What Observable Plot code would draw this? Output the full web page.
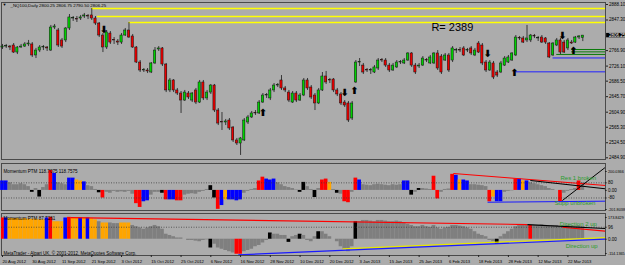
<!DOCTYPE html>
<html><head><meta charset="utf-8">
<script src="https://cdn.jsdelivr.net/npm/d3@7"></script>
<script src="https://cdn.jsdelivr.net/npm/@observablehq/plot@0.6"></script>
<style>
html,body{margin:0;padding:0;background:#acacac;}
#chart{position:relative;width:625px;height:265px;background:#acacac;overflow:hidden;}
#chart svg{position:absolute;left:0;}
</style></head><body><div id="chart"></div>
<script>
// ---------- price data (daily candles, 20 Aug 2012 .. 28 Mar 2013) ----------
const open = [2775,2777.5,2777.5,2780.25,2761.75,2775,2777.5,2783,2783,2754,
2767,2775,2775,2767,2827.5,2819.75,2793.5,2793.5,2825,2851.25,
2848.5,2851.25,2856.5,2856.5,2859.25,2851.25,2838,2806.5,2775,2811.75,
2793.5,2790.75,2788,2806.5,2819.75,2804,2775,2735.5,2714.5,2714.5,
2709.25,2733,2769.75,2772.5,2730.25,2662,2688.25,2662,2654,2635.5,
2654,2635.5,2662,2630.25,2683,2641,2656.5,2675,2609.25,2577.75,
2577.75,2583,2564.5,2530.5,2522.5,2530.5,2577.75,2591,2601.5,2601.5,
2630.25,2648.75,2641,2662,2675,2688.25,2667.25,2656.5,2630.25,2654,
2635.5,2648.75,2688.25,2669.75,2648.75,2627.75,2662,2698.75,2688.25,2690.75,
2662,2651.5,2630.25,2627.75,2588.25,2683,2735.5,2727.5,2714.5,2714.5,
2709.25,2719.75,2740.75,2740.75,2727.5,2714.5,2722.5,2735.5,2733,2740.75,
2759.25,2727.5,2725,2727.5,2740.75,2733,2733,2759.25,2751.25,2740.75,
2754,2740.75,2767,2767,2772.5,2767,2772.5,2754,2785.5,2780.25,
2735.5,2714.5,2733,2709.25,2709.25,2727.5,2735.5,2740.75,2754,2798.75,
2798.75,2793.5,2793.5,2804,2798.75,2801.25,2798.75,2785.5,2754,2780.25,
2793.5,2788,2772.5,2788,2788,2801.25,2800.25];
const close = [2777.5,2778,2775,2761.75,2775,2777.5,2783,2785.5,2754,2767,
2775,2775.5,2772.5,2827.5,2830.25,2780.25,2777.5,2825,2854,2851.75,
2848,2854,2859.25,2856,2851.25,2838,2806.5,2775,2814.5,2788,
2793,2788,2806.5,2819.75,2801.25,2775,2735.5,2714.5,2715,2712,
2733,2767,2772.5,2730.25,2662,2688.25,2662,2654,2635.5,2656.5,
2643.5,2654,2630.25,2683,2641,2656.5,2675,2609.25,2575,2577.25,
2580.5,2562,2530.5,2522.5,2535.75,2583,2591,2601.5,2601,2630.25,
2648.75,2649,2662,2675,2675.5,2667.25,2662,2635.5,2654,2635.5,
2648.75,2688.25,2667.25,2643.5,2627.75,2662,2698.75,2683,2688,2662,
2651.5,2627.75,2622.5,2583,2627.75,2735.5,2736,2709.25,2714,2715,
2722.5,2740.75,2740.25,2727.5,2714.5,2727.5,2735.5,2736,2740.75,2759.25,
2727.5,2709.25,2727.5,2746,2740.25,2748.75,2759.25,2719.75,2709.25,2754,
2714.5,2772.5,2767.5,2766.5,2754,2767.5,2759.25,2767,2761.75,2733,
2714.5,2735.5,2696,2701.25,2733,2746,2748.75,2759.25,2801.25,2798.25,
2788,2798.75,2806.5,2803.5,2799.25,2788,2788,2748.75,2785.5,2793.5,
2761.75,2761.75,2793.5,2785.5,2801.25,2804,2806.25];
const high = [2783,2783,2780.25,2785.5,2777.5,2783,2788,2793.5,2788,2772.5,
2780.25,2780.25,2777.5,2833,2835.5,2825,2798.75,2827.5,2861.75,2856.5,
2856.5,2859.25,2864.5,2861.75,2877.5,2856.5,2840.75,2811.75,2819.75,2817,
2801.25,2796,2811.75,2825,2840.75,2809.25,2777.5,2740.75,2719.75,2719.75,
2735.5,2775,2777.5,2775,2733,2693.5,2690.75,2667.25,2659.25,2662,
2659.25,2656.5,2667.25,2688.25,2688.25,2662,2677.75,2677.75,2614.5,2604,
2585.75,2588.25,2567.25,2535.75,2538.25,2588.25,2596.25,2606.75,2609.25,2635.5,
2654,2654,2667.25,2680.25,2680.25,2701.25,2672.5,2662,2659.25,2659.25,
2654,2693.5,2693.5,2675,2654,2667.25,2709.25,2712,2693.5,2693.5,
2667.25,2656.5,2635.5,2633,2633,2740.75,2746,2733,2719.75,2719.75,
2727.5,2746,2746,2746,2733,2733,2740.75,2740.75,2746,2761.75,
2761.75,2733,2733,2751.25,2746,2754,2761.75,2767,2756.5,2759.25,
2759.25,2777.5,2772.5,2775,2777.5,2772.5,2777.5,2772.5,2790.75,2785.5,
2740.75,2740.75,2738.25,2714.5,2738.25,2751.25,2754,2761.75,2806.5,2804,
2804,2833,2809.25,2809.25,2804,2806.5,2801.25,2788,2788,2798.75,
2798.75,2793.5,2798.75,2793.5,2804,2806.5,2806.75];
const low = [2769.75,2772.5,2767,2759.25,2756.5,2772.5,2775,2777.5,2748.75,2746,
2761.75,2767,2764.5,2764.5,2822.25,2775,2772.5,2788,2819.75,2843.5,
2840.75,2846,2851.25,2848.5,2846,2833,2801.25,2761.75,2769.75,2783,
2783,2780.25,2783,2804,2798.75,2772.5,2733,2709.25,2709.25,2706.5,
2706.5,2730.25,2764.5,2725,2656.5,2656.5,2656.5,2648.75,2601.5,2633,
2638.25,2630.25,2625,2627.75,2635.5,2635.5,2651.5,2604,2569.75,2556.75,
2569.75,2556.75,2525.25,2517.25,2491,2527.75,2572.5,2588.25,2596.25,2598.75,
2627.75,2641,2635.5,2656.5,2669.75,2662,2656.5,2630.25,2627.75,2630.25,
2633,2646,2662,2638.25,2609.25,2625,2659.25,2677.75,2680.25,2656.5,
2646,2622.5,2617.25,2577.75,2583,2680.25,2725,2704,2709.25,2704,
2706.5,2714.5,2735.5,2722.5,2709.25,2712,2719.75,2730.25,2730.25,2738.25,
2722.5,2704,2719.75,2725,2735.5,2730.25,2730.25,2714.5,2704,2738.25,
2709.25,2735.5,2759.25,2761.75,2751.25,2761.75,2754,2751.25,2759.25,2727.5,
2709.25,2712,2690.75,2696,2706.5,2725,2733,2738.25,2751.25,2793.5,
2785.5,2788,2788,2798.75,2790.75,2785.5,2783,2746,2751.25,2777.5,
2756.5,2759.25,2767,2783,2785.5,2796,2790.5];

// ---------- indicator window 1: Momentum PTM ----------
const mom1 = [100,100,80,60,60,70,60,40,-20,20,
-70,30,60,210,180,80,70,60,130,130,
110,100,90,50,40,10,-25,-80,-20,-30,
-10,-20,-15,-20,-10,-40,-140,-180,-120,-110,
-50,-20,-20,-30,-100,-100,-100,-110,-110,-50,
-40,-35,-40,-20,-10,10,50,-80,-200,-160,
-100,-100,-100,-110,-100,-30,-10,10,20,100,
140,120,110,120,80,60,40,30,20,5,
-20,85,40,10,-75,20,110,120,85,10,
-30,-40,-120,-130,-20,130,110,60,55,50,
60,65,60,55,50,60,55,60,100,100,
-50,-20,20,20,15,10,150,-90,-20,10,
15,170,160,110,110,100,60,60,55,50,
40,-120,-70,-120,-120,-20,-10,-5,120,120,
100,100,80,70,60,50,40,20,10,0,
-120,-30,-10,10,20,100,80];
const mom1Col = ["b","b","g","g","g","g","g","g","k","g",
"k","g","g","r","b","g","g","g","b","b",
"o","o","b","g","g","g","k","r","g","g",
"g","g","g","g","g","g","r","r","b","b",
"g","g","g","k","r","b","b","r","r","g",
"g","g","g","g","g","g","k","k","r","b",
"o","b","b","b","b","g","g","g","g","r",
"r","b","b","b","g","g","g","g","g","g",
"k","k","g","g","k","g","r","r","o","g",
"k","g","r","r","g","r","b","g","g","g",
"g","g","g","g","g","g","g","g","b","b",
"k","g","k","g","g","g","r","r","g","g",
"g","r","b","o","b","b","g","g","g","g",
"g","r","o","b","b","g","g","g","r","b",
"o","b","g","g","g","g","g","g","g","g",
"r","g","g","g","g","r","g"];

// ---------- indicator window 2: Momentum PTM ----------
const mom2 = [170,170,165,165,165,160,165,160,160,160,
155,155,170,175,140,140,140,170,175,170,
170,170,170,170,165,155,140,130,130,130,
125,125,130,130,130,110,100,90,80,90,
100,110,100,80,40,30,20,10,10,0,
-10,-10,-15,-20,-10,-5,-70,-40,-70,-80,
-90,-100,-110,-120,-120,-100,-90,-80,-60,-50,
-30,-10,50,40,40,30,30,-25,20,30,
40,30,-10,-20,20,60,60,40,20,0,
-20,-60,-80,-100,-60,140,140,150,150,145,
140,150,150,145,140,140,145,140,130,120,
110,100,100,110,100,95,110,90,80,90,
95,110,110,105,100,90,80,60,40,30,
20,-10,-20,-40,20,40,60,80,100,110,
110,110,110,110,110,115,110,105,110,110,
100,105,110,105,100,105,100];
const mom2Col = ["r","b","o","o","o","o","o","o","o","o",
"o","o","b","r","o","o","o","b","r","o",
"o","b","o","b","o","o","g","o","o","g",
"g","g","o","o","o","g","g","g","g","g",
"g","g","g","g","g","g","g","g","g","g",
"g","g","g","g","g","g","k","g","g","g",
"g","g","g","r","r","g","g","g","g","g",
"g","g","k","g","g","g","g","k","g","g",
"k","g","g","g","g","k","g","g","g","g",
"g","g","g","g","g","k","g","g","g","g",
"g","g","g","g","g","g","g","g","g","g",
"g","g","g","g","g","g","g","g","g","g",
"g","g","g","g","g","g","g","g","g","g",
"g","g","g","k","g","g","g","g","g","g",
"g","g","r","g","g","g","g","g","g","g",
"g","g","g","g","g","g","g"];

// ---------- axes / labels ----------
const dateLabels = ["20 Aug 2012","30 Aug 2012","11 Sep 2012","21 Sep 2012","3 Oct 2012","15 Oct 2012",
"25 Oct 2012","6 Nov 2012","16 Nov 2012","28 Nov 2012","10 Dec 2012","20 Dec 2012","3 Jan 2013",
"15 Jan 2013","25 Jan 2013","6 Feb 2013","18 Feb 2013","28 Feb 2013","12 Mar 2013","22 Mar 2013"];
const dateTickBars = [0,8,16,24,32,40,48,56,64,72,80,88,96,104,112,120,128,136,144,152];
const priceTicks = [2888.10,2847.30,2766.90,2726.10,2686.50,2645.70,2604.90,2565.30,2524.50,2484.90];
const sub1Ticks = [200.0366,80,0,-80,-201.8038];
const sub1Levels = [80,-80];
const sub2Ticks = [173.8429,96,0,-114.1365];
const sub2Levels = [96];

// ---------- annotations (bar index, price / value) ----------
const yellowStart = [24,25.5,34];
const yellowPrice = [2877.5,2856.5,2840.5];
const hLineStart = [153,153,149,148,138];
const hLinePrice = [2769.75,2763.5,2756.75,2747.5,2711];
const hLineColor = ["#0a7a0a","#0a7a0a","#0a7a0a","#2020ff","#2020ff"];
const arrowBar = [27.3,70,92,94.6,130.4,137.6,150.5,153.5];
const arrowPrice = [2822,2603,2656,2661,2759,2709,2806,2767];
const arrowDir = ["down","up","down","up","down","up","down","up"];

const sub1Seg = [
  {x1:121.2,y1:179,x2:162.1,y2:52,c:"#ff0000"},
  {x1:141.9,y1:105,x2:162.1,y2:17,c:"#000000"},
  {x1:150.5,y1:-107,x2:162.1,y2:245,c:"#000000"},
  {x1:130.4,y1:-125,x2:162.1,y2:-114,c:"#1a1aff"}];
const sub2Seg = [
  {x1:18.3,y1:173.6,x2:141.1,y2:117.6,c:"#ff0000"},
  {x1:150.5,y1:96,x2:162.1,y2:64,c:"#ff0000"},
  {x1:141.1,y1:117.6,x2:162.1,y2:85.6,c:"#000000"},
  {x1:91.4,y1:-77,x2:162.1,y2:13.6,c:"#e8e800"},
  {x1:63.4,y1:-125,x2:162.1,y2:1.6,c:"#1a1aff"}];

// ---------- build ----------
const FONT = "Liberation Sans, Arial, sans-serif";
const colMap = {g:"#7f7f7f", r:"#ff0000", b:"#0000ff", o:"#ffa500", k:"#000000"};
const bars = open.map((o,i)=>({i, o, h:high[i], l:low[i], c:close[i]}));
const m1 = mom1.map((v,i)=>({i, v, c:colMap[mom1Col[i]]}));
const m2 = mom2.map((v,i)=>({i, v, c:colMap[mom2Col[i]]}));
const X = {type:"linear", domain:[0,156], range:[2,582.3]};
const baseStyle = {background:"transparent", fontFamily:FONT, overflow:"visible"};
const chart = document.getElementById("chart");
function place(svg, top){ svg.style.top = top+"px"; chart.appendChild(svg); }
const subFmt = d => Number.isInteger(d) ? (d===0 ? "0.00" : String(d)) : d.toFixed(4);
const longTicks1 = sub1Ticks.filter(d => !Number.isInteger(d));
const shortTicks1 = sub1Ticks.filter(d => Number.isInteger(d));
const longTicks2 = sub2Ticks.filter(d => !Number.isInteger(d));
const shortTicks2 = sub2Ticks.filter(d => Number.isInteger(d));

// main window
const yellow = yellowStart.map((s,j)=>({s, p:yellowPrice[j]}));
const hlines = hLineStart.map((s,j)=>({s, p:hLinePrice[j], c:hLineColor[j]}));
const arrows = arrowBar.map((b,j)=>({b, p:arrowPrice[j], d:arrowDir[j]}));
const last = bars[bars.length-1];
const main = Plot.plot({
  width:625, height:160, marginLeft:1, marginRight:20, marginTop:2, marginBottom:1,
  style:baseStyle, x:{...X, axis:null},
  y:{domain:[2484.9,2888.1], range:[157.3,4], axis:null},
  color:{type:"identity"},
  marks:[
    Plot.frame({stroke:"#4a4a4a"}),
    Plot.ruleY(yellow, {x1:"s", x2:170, y:"p", stroke:"#ffff00", strokeWidth:1.5, clip:true}),
    Plot.ruleY(hlines, {x1:"s", x2:170, y:"p", stroke:"c", strokeWidth:1, clip:true}),
    Plot.ruleX(bars, {x:"i", y1:"l", y2:"h", stroke:"#1a1a1a", strokeWidth:0.8}),
    Plot.rect(bars, {x1:d=>d.i-0.3, x2:d=>d.i+0.3, y1:"o", y2:d=>Math.abs(d.c-d.o)<1.5?d.o+1.5:d.c,
      fill:d=>d.c>=d.o?"#00d200":"#e80000", stroke:"#111", strokeWidth:0.5}),
    Plot.text(arrows, {x:"b", y:"p", text:d=>d.d==="down"?"⬇":"⬆", fontSize:10, fontWeight:"bold",
      fill:"#000", fontFamily:"DejaVu Sans"}),
    Plot.text(["R= 2389"], {x:115.3, y:2827.6, text:d=>d, textAnchor:"start", fontSize:11, fill:"#000"}),
    Plot.text(["▼"], {frameAnchor:"top-left", dx:1, dy:1, text:d=>d, fontSize:4, fill:"#000"}),
    Plot.text([`_NQ100,Daily ${open[156].toFixed(2)} ${high[156].toFixed(2)} ${low[156].toFixed(2)} ${close[156].toFixed(2)}`],
      {frameAnchor:"top-left", dx:9, dy:1, text:d=>d, fontSize:4.4, fill:"#000"}),
    Plot.axisY({anchor:"right", ticks:priceTicks, tickFormat:d=>d.toFixed(2), tickSize:2, tickPadding:1.5,
      fontSize:4.5, stroke:"#222"}),
    Plot.rect([last], {x1:162.4, x2:168, y1:d=>d.c-5.8, y2:d=>d.c+5.8, fill:"#000"}),
    Plot.text([last], {x:165.2, y:"c", text:d=>d.c.toFixed(2), fill:"#fff", fontSize:4.5})
  ]});
place(main, 0);

// sub window 1
const sub1 = Plot.plot({
  width:625, height:53, marginLeft:1, marginRight:20, marginTop:3, marginBottom:3,
  style:baseStyle, x:{...X, axis:null},
  y:{domain:[-201.8038,200.0366], range:[49,11], axis:null},
  color:{type:"identity"},
  marks:[
    Plot.frame({stroke:"#4a4a4a"}),
    Plot.rect(m1, {x1:d=>d.i-0.5, x2:d=>d.i+0.5, y1:0, y2:"v", fill:"c"}),
    Plot.ruleY(sub1Levels, {stroke:"#333", strokeDasharray:"1,1.5", strokeWidth:0.7}),
    Plot.link(sub1Seg, {x1:"x1", y1:"y1", x2:"x2", y2:"y2", stroke:"c", strokeWidth:1, clip:true}),
    Plot.text(["Res 1 broken"], {x:154.8, y:127, text:d=>d, fontSize:6, fill:"#2a9d2a"}),
    Plot.text(["Supp unbroken"], {x:153.9, y:-137, text:d=>d, fontSize:6, fill:"#2a9d2a"}),
    Plot.text(["Momentum PTM 118.7075 118.7575"], {frameAnchor:"top-left", dx:2, dy:6, text:d=>d, fontSize:4.6, fill:"#000"}),
    Plot.ruleY(sub1Ticks, {y:d=>d, x1:162.1, x2:162.55, stroke:"#222"}),
    Plot.text(shortTicks1, {y:d=>d, x:162.75, text:subFmt, fontSize:4.5, textAnchor:"start", fill:"#000"}),
    Plot.text(longTicks1, {y:d=>d, x:162.75, text:subFmt, fontSize:3.8, textAnchor:"start", fill:"#000"})
  ]});
place(sub1, 160);

// sub window 2
const sub2 = Plot.plot({
  width:625, height:46, marginLeft:1, marginRight:20, marginTop:3, marginBottom:1,
  style:baseStyle, x:{...X, axis:null},
  y:{domain:[-114.1365,173.8429], range:[43,7], axis:null},
  color:{type:"identity"},
  marks:[
    Plot.frame({stroke:"#4a4a4a"}),
    Plot.rect(m2, {x1:d=>d.i-0.5, x2:d=>d.i+0.5, y1:0, y2:"v", fill:"c", clip:true}),
    Plot.ruleY(sub2Levels, {stroke:"#333", strokeDasharray:"1,1.5", strokeWidth:0.7}),
    Plot.link(sub2Seg, {x1:"x1", y1:"y1", x2:"x2", y2:"y2", stroke:"c", strokeWidth:1.2, clip:true}),
    Plot.text(["Direction 2 up"], {x:154.8, y:118, text:d=>d, fontSize:6, fill:"#2a9d2a"}),
    Plot.text(["Direction up"], {x:155.7, y:-57, text:d=>d, fontSize:6, fill:"#2a9d2a"}),
    Plot.text(["Momentum PTM 87.7261"], {frameAnchor:"top-left", dx:2, dy:3, text:d=>d, fontSize:4.6, fill:"#000"}),
    Plot.text(["MetaTrader - Alpari UK, © 2001-2012, MetaQuotes Software Corp."], {frameAnchor:"bottom-left", dx:2, dy:-1, text:d=>d, fontSize:4.5, fill:"#000"}),
    Plot.ruleY(sub2Ticks, {y:d=>d, x1:162.1, x2:162.55, stroke:"#222"}),
    Plot.text(shortTicks2, {y:d=>d, x:162.75, text:subFmt, fontSize:4.5, textAnchor:"start", fill:"#000"}),
    Plot.text(longTicks2, {y:d=>d, x:162.75, text:subFmt, fontSize:3.8, textAnchor:"start", fill:"#000"})
  ]});
place(sub2, 210);

// time axis
const timeAxis = Plot.plot({
  width:625, height:10, marginLeft:1, marginRight:20, marginTop:0, marginBottom:0,
  style:baseStyle, x:{...X, axis:null}, y:{axis:null},
  marks:[
    Plot.tickX(dateTickBars, {x:d=>d, stroke:"#222", insetBottom:8}),
    Plot.text(dateTickBars, {x:d=>d, text:(d,j)=>dateLabels[j], textAnchor:"start", frameAnchor:"middle", dy:1, fontSize:4.2, fill:"#000"})
  ]});
place(timeAxis, 255);
</script></body></html>
